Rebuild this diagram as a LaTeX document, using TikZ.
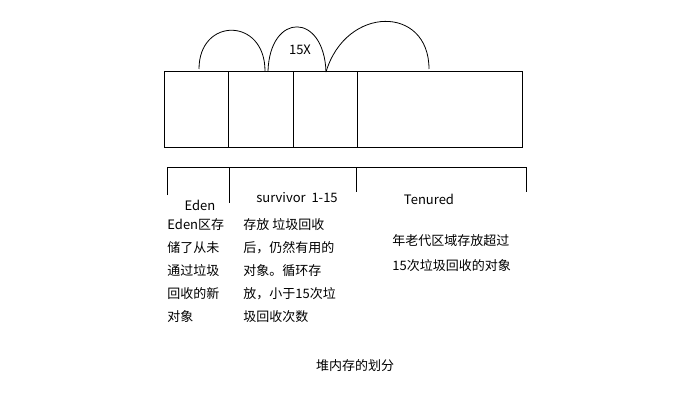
\documentclass[tikz,border=0pt]{standalone}
\usepackage{fontspec}
\setmainfont{Noto Sans CJK SC}
\usetikzlibrary{positioning}

\begin{document}
\begin{tikzpicture}[x=1pt, y=-1pt, node distance=0pt, line width=0.9pt,
  every node/.style={font=\fontsize{13}{23}\selectfont, inner sep=0pt},
  cell/.style={draw, minimum height=76pt, outer sep=0pt},
  note/.style={align=left, anchor=north west},
  hop/.style={draw, line width=0.8pt}]
  \useasboundingbox (0,0) rectangle (696,401);
  % heap cells
  \node[cell, minimum width=64pt, anchor=north west] (eden) at (164,71) {};
  \node[cell, minimum width=65pt, right=of eden] (s0) {};
  \node[cell, minimum width=64pt, right=of s0] (s1) {};
  \node[cell, minimum width=165pt, right=of s1] (old) {};
  % copy hops
  \coordinate (h1) at (199,69);
  \coordinate (h2) at (265,71);
  \coordinate (h3) at (268,71);
  \coordinate (h4) at (326,72);
  \coordinate (h5) at (429,69);
  \draw[hop] (h1) .. controls (199,17) and (265,17) .. (h2);
  \draw[hop] (h3) .. controls (270,12) and (324,12) .. (h4);
  \draw[hop] (h4) .. controls (346,5) and (429,5) .. (h5);
  \node (times) at (300,50) {15X};
  % brackets
  \coordinate (b0) at (167,167);
  \coordinate (b1) at (229,167);
  \coordinate (b2) at (356,167);
  \coordinate (b3) at (526,167);
  \draw (167,195) -- (b0) -- (b3) -- (526,192);
  \draw (b1) -- (229,203);
  \draw (b2) -- (356,192);
  % labels
  \node (edenlbl) at (200,205) {Eden};
  \node (survlbl) at (297,198) {survivor\ \ 1-15};
  \node (oldlbl) at (429,199) {Tenured};
  \node[note] (edentxt) at (167,218) {Eden区存\\储了从未\\通过垃圾\\回收的新\\对象};
  \node[note] (survtxt) at (243,218) {存放 垃圾回收\\后，仍然有用的\\对象。循环存\\放，小于15次垃\\圾回收次数};
  \node[note, font=\fontsize{13}{25}\selectfont] (oldtxt) at (392,234) {年老代区域存放超过\\15次垃圾回收的对象};
  \node (title) at (355,366) {堆内存的划分};
\end{tikzpicture}
\end{document}
